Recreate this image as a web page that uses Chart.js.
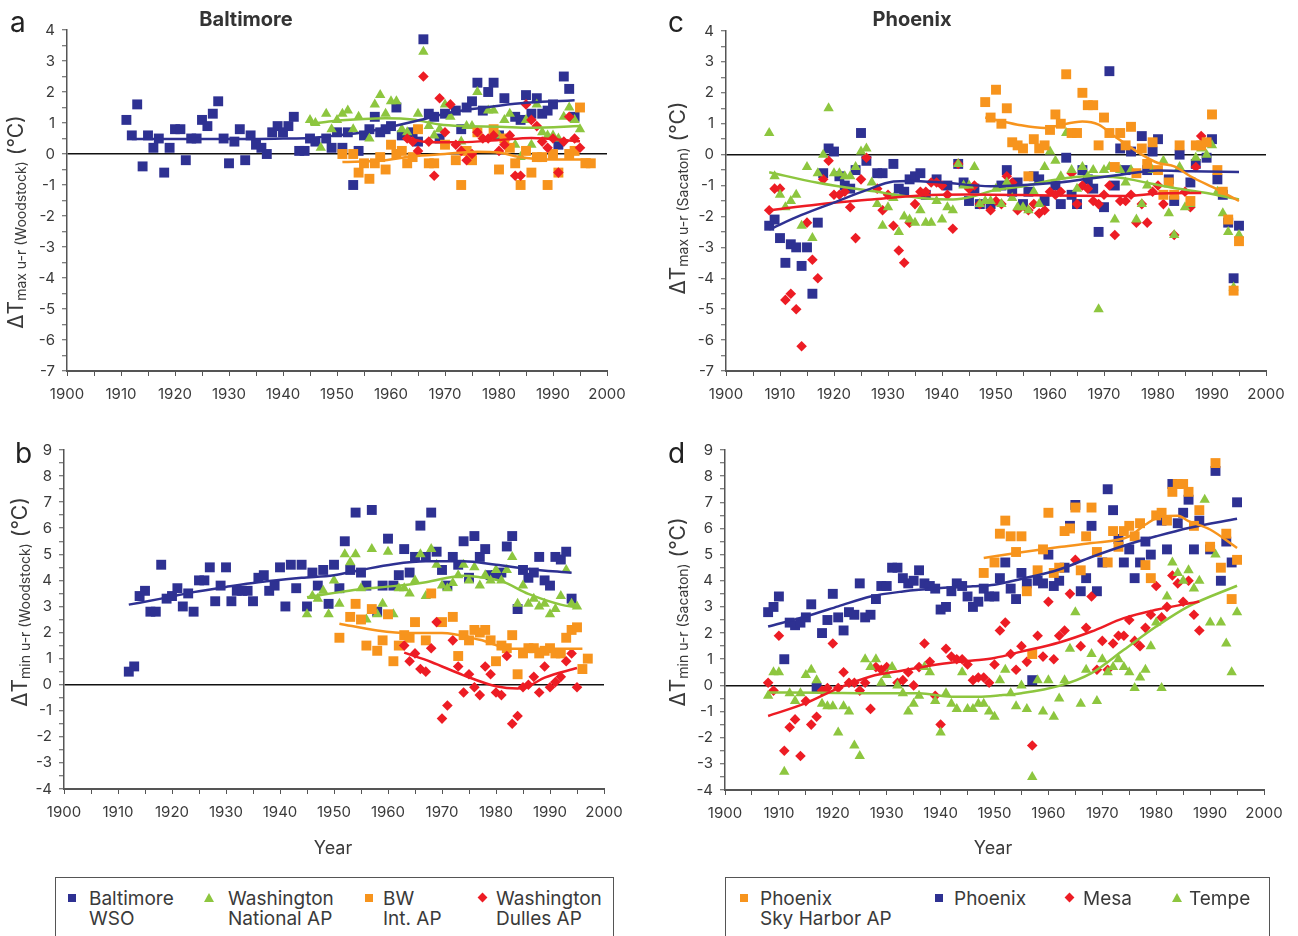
<!DOCTYPE html>
<html>
<head>
<meta charset="utf-8">
<script src="https://cdn.jsdelivr.net/npm/chart.js@4.4.1/dist/chart.umd.min.js"></script>
<style>
  html, body { margin: 0; padding: 0; width: 1298px; height: 936px; overflow: hidden; background: #fff; }
  body { position: relative; font-family: Inter, "Open Sans", sans-serif; color: #3a3a3a; }
  canvas { position: absolute; }
  .t { position: absolute; white-space: nowrap; line-height: 1; }
  .letter { font-size: 28px; color: #222; }
  .ptitle { font-size: 20px; font-weight: bold; color: #333; transform: translateX(-50%); }
  .ytitle { font-size: 21px; transform: translate(-50%, -50%) rotate(-90deg); }
  .ytitle .sub { font-size: 14px; position: relative; top: 3px; }
  .xtitle { font-size: 18px; transform: translateX(-50%); }
  .lbox { position: absolute; border: 1px solid #555; height: 90px; }
  .ltext { position: absolute; font-size: 19px; line-height: 20px; white-space: nowrap; color: #3a3a3a; }
  .msq { position: absolute; width: 8px; height: 8px; }
  .mdi { position: absolute; width: 7px; height: 7px; transform: rotate(45deg); }
  .mtr { position: absolute; width: 0; height: 0; border-left: 5.5px solid transparent; border-right: 5.5px solid transparent; border-bottom: 9.5px solid #8dc63f; }
</style>
</head>
<body>

<canvas id="pa" width="650" height="420" style="left:0;top:0"></canvas>
<canvas id="pc" width="643" height="420" style="left:655px;top:0"></canvas>
<canvas id="pb" width="650" height="440" style="left:0;top:430px"></canvas>
<canvas id="pd" width="643" height="440" style="left:655px;top:430px"></canvas>

<div class="t letter" style="left:10px;top:8px">a</div>
<div class="t letter" style="left:15px;top:439px">b</div>
<div class="t letter" style="left:668px;top:8px">c</div>
<div class="t letter" style="left:668px;top:439px">d</div>

<div class="t ptitle" style="left:246px;top:9px">Baltimore</div>
<div class="t ptitle" style="left:912px;top:9px">Phoenix</div>

<div class="t ytitle" style="left:15px;top:222px">ΔT<span class="sub">max u-r (Woodstock)</span> (°C)</div>
<div class="t ytitle" style="left:19px;top:602px">ΔT<span class="sub">min u-r (Woodstock)</span> (°C)</div>
<div class="t ytitle" style="left:677px;top:198px">ΔT<span class="sub">max u-r (Sacaton)</span> (°C)</div>
<div class="t ytitle" style="left:677px;top:612px">ΔT<span class="sub">min u-r (Sacaton)</span> (°C)</div>

<div class="t xtitle" style="left:333px;top:839px">Year</div>
<div class="t xtitle" style="left:993px;top:839px">Year</div>

<div class="lbox" style="left:55px;top:877px;width:557px"></div>
<div class="msq" style="left:68px;top:894px;background:#2e3192"></div>
<div class="ltext" style="left:89px;top:889px">Baltimore<br>WSO</div>
<div class="mtr" style="left:204px;top:893px"></div>
<div class="ltext" style="left:228px;top:889px">Washington<br>National AP</div>
<div class="msq" style="left:365px;top:894px;background:#f7941d"></div>
<div class="ltext" style="left:383px;top:889px">BW<br>Int. AP</div>
<div class="mdi" style="left:479px;top:894px;background:#ed1c24"></div>
<div class="ltext" style="left:496px;top:889px">Washington<br>Dulles AP</div>

<div class="lbox" style="left:725px;top:877px;width:543px"></div>
<div class="msq" style="left:740px;top:894px;background:#f7941d"></div>
<div class="ltext" style="left:760px;top:889px">Phoenix<br>Sky Harbor AP</div>
<div class="msq" style="left:935px;top:894px;background:#2e3192"></div>
<div class="ltext" style="left:954px;top:889px">Phoenix</div>
<div class="mdi" style="left:1066px;top:894px;background:#ed1c24"></div>
<div class="ltext" style="left:1083px;top:889px">Mesa</div>
<div class="mtr" style="left:1172px;top:893px"></div>
<div class="ltext" style="left:1189px;top:889px">Tempe</div>

<script>
// colours of the four stations in each panel
const BLUE = '#2e3192', GREEN = '#8dc63f', ORANGE = '#f7941d', RED = '#ed1c24';

// ---- a: Baltimore, delta Tmax (urban - Woodstock) ----
const balWsoMax = [[1911,1.1],[1912,0.6],[1913,1.6],[1914,-0.4],[1915,0.6],[1916,0.2],[1917,0.5],[1918,-0.6],[1919,0.2],[1920,0.8],[1921,0.8],[1922,-0.2],[1923,0.5],[1924,0.5],[1925,1.1],[1926,0.9],[1927,1.3],[1928,1.7],[1929,0.5],[1930,-0.3],[1931,0.4],[1932,0.8],[1933,-0.2],[1934,0.6],[1935,0.3],[1936,0.2],[1937,0.0],[1938,0.7],[1939,0.9],[1940,0.7],[1941,0.9],[1942,1.2],[1943,0.1],[1944,0.1],[1945,0.5],[1946,0.4],[1948,0.5],[1949,0.2],[1950,0.7],[1951,0.2],[1952,0.7],[1953,-1.0],[1954,0.1],[1955,0.6],[1956,0.8],[1957,1.2],[1958,0.7],[1959,0.8],[1960,0.9],[1961,1.5],[1962,0.6],[1964,0.7],[1965,0.4],[1966,3.7],[1967,1.3],[1968,1.2],[1969,0.5],[1970,1.3],[1972,1.4],[1973,0.8],[1974,1.5],[1975,1.7],[1976,2.3],[1977,1.4],[1978,2.0],[1979,2.3],[1980,0.6],[1981,1.8],[1983,1.2],[1984,1.1],[1985,1.9],[1986,1.3],[1987,1.8],[1988,1.3],[1989,1.4],[1990,1.6],[1991,0.3],[1992,2.5],[1993,2.1],[1994,1.2]];
const waNatMax = [[1945,1.1],[1946,1.0],[1947,0.2],[1948,1.3],[1949,0.8],[1950,1.1],[1951,1.3],[1952,1.4],[1953,0.8],[1954,1.2],[1956,0.5],[1957,1.6],[1958,1.9],[1959,1.3],[1960,1.7],[1961,1.7],[1962,0.8],[1963,0.7],[1965,1.3],[1966,3.3],[1967,0.9],[1968,0.6],[1969,0.8],[1970,1.6],[1971,1.2],[1973,0.4],[1974,0.9],[1975,0.9],[1976,2.0],[1978,1.4],[1979,1.4],[1980,0.6],[1981,1.1],[1982,1.3],[1983,0.3],[1984,-0.1],[1985,1.1],[1986,0.3],[1987,1.6],[1988,0.7],[1989,0.6],[1990,0.6],[1991,0.5],[1992,1.2],[1993,1.5],[1994,1.1],[1995,0.8]];
const bwiMax = [[1951,0.0],[1953,0.0],[1954,-0.6],[1955,-0.3],[1956,-0.8],[1957,-0.3],[1958,-0.1],[1959,-0.5],[1960,0.3],[1961,0.0],[1962,0.1],[1963,-0.3],[1964,-0.1],[1965,0.8],[1967,-0.3],[1968,-0.3],[1970,0.3],[1972,-0.2],[1973,-1.0],[1974,0.1],[1975,-0.2],[1976,0.7],[1979,0.8],[1980,-0.5],[1981,0.5],[1982,0.2],[1983,-0.3],[1984,-1.0],[1985,0.1],[1986,-0.6],[1987,-0.1],[1988,-0.1],[1989,-1.0],[1990,0.0],[1991,-0.6],[1993,0.0],[1994,0.1],[1995,1.5],[1996,-0.3],[1997,-0.3]];
const dullesMax = [[1963,0.5],[1964,0.4],[1965,0.1],[1966,2.5],[1967,0.4],[1968,-0.7],[1969,1.8],[1970,0.7],[1971,1.6],[1972,0.3],[1973,0.1],[1974,-0.2],[1975,0.0],[1976,0.7],[1977,0.5],[1978,0.5],[1979,0.6],[1980,0.1],[1981,0.3],[1982,0.6],[1983,-0.7],[1984,-0.7],[1985,1.6],[1986,1.1],[1987,0.9],[1988,0.4],[1989,0.2],[1990,0.5],[1991,-0.6],[1992,0.4],[1993,1.2],[1994,0.5],[1995,0.2]];
const balWsoMaxFit = [[1912,0.48],[1920,0.48],[1930,0.48],[1940,0.5],[1945,0.52],[1950,0.6],[1955,0.7],[1960,0.88],[1965,1.08],[1970,1.3],[1975,1.45],[1980,1.56],[1985,1.65],[1990,1.7],[1994,1.73]];
const waNatMaxFit = [[1945,0.97],[1949,1.06],[1955,1.13],[1959,1.15],[1964,1.11],[1969,0.95],[1973,0.9],[1980,0.88],[1986,0.85],[1995,0.9]];
const bwiMaxFit = [[1951,-0.26],[1958,-0.22],[1964,-0.07],[1970,0.0],[1976,0.07],[1980,0.05],[1983,-0.07],[1987,-0.16],[1992,-0.18],[1997,-0.18]];
const dullesMaxFit = [[1963,0.52],[1967,0.38],[1973,0.38],[1980,0.45],[1986,0.52],[1995,0.41]];

// ---- b: Baltimore, delta Tmin ----
const balWsoMin = [[1912,0.5],[1913,0.7],[1914,3.4],[1915,3.6],[1916,2.8],[1917,2.8],[1918,4.6],[1919,3.3],[1920,3.4],[1921,3.7],[1922,3.0],[1923,3.5],[1924,2.8],[1925,4.0],[1926,4.0],[1927,4.5],[1928,3.2],[1929,3.8],[1930,4.5],[1931,3.2],[1932,3.6],[1933,3.6],[1934,3.6],[1935,3.2],[1936,4.1],[1937,4.2],[1938,3.6],[1939,3.8],[1940,4.5],[1941,3.0],[1942,4.6],[1943,3.7],[1944,4.6],[1945,3.0],[1946,4.3],[1947,3.8],[1948,4.4],[1949,3.1],[1950,4.6],[1951,3.7],[1952,5.5],[1953,4.4],[1954,6.6],[1955,4.3],[1956,3.8],[1957,6.7],[1958,2.8],[1959,3.8],[1960,5.6],[1961,3.8],[1962,4.2],[1963,5.2],[1964,4.3],[1965,4.9],[1966,6.1],[1967,4.9],[1968,6.6],[1969,5.1],[1970,4.4],[1971,3.8],[1972,4.9],[1973,4.6],[1974,5.5],[1975,4.1],[1976,5.7],[1977,4.9],[1978,5.2],[1979,4.2],[1980,4.2],[1981,4.3],[1982,5.3],[1983,5.7],[1984,2.9],[1985,4.4],[1986,4.1],[1987,4.3],[1988,4.9],[1989,4.0],[1990,3.8],[1991,4.9],[1992,4.8],[1993,5.1],[1994,3.3]];
const waNatMin = [[1945,2.7],[1946,3.4],[1947,3.3],[1948,3.6],[1949,2.7],[1950,4.0],[1951,3.1],[1952,5.0],[1953,4.7],[1954,5.0],[1955,3.7],[1956,2.5],[1957,5.2],[1958,2.7],[1959,3.1],[1960,5.1],[1961,2.7],[1962,3.7],[1963,3.7],[1964,3.5],[1965,4.0],[1966,5.0],[1967,3.4],[1968,5.2],[1969,4.6],[1970,3.8],[1971,3.7],[1972,3.9],[1973,4.2],[1974,4.6],[1975,4.0],[1976,4.5],[1977,3.8],[1978,4.2],[1979,4.0],[1980,4.4],[1981,4.0],[1982,4.4],[1983,4.9],[1984,3.1],[1985,3.8],[1986,3.1],[1987,3.3],[1988,3.0],[1989,3.1],[1990,2.7],[1991,2.9],[1992,3.4],[1993,4.4],[1994,3.1],[1995,3.0]];
const bwiMin = [[1951,1.8],[1953,2.6],[1954,3.1],[1955,2.5],[1956,1.5],[1957,2.9],[1958,1.3],[1959,1.7],[1960,2.7],[1961,0.9],[1962,1.5],[1963,1.9],[1964,1.8],[1965,2.4],[1967,1.7],[1968,3.5],[1970,2.4],[1972,2.6],[1973,1.1],[1974,1.9],[1975,1.7],[1976,2.1],[1977,2.0],[1978,2.1],[1979,1.7],[1980,0.9],[1981,1.5],[1982,1.4],[1983,1.9],[1984,0.4],[1985,1.2],[1986,1.4],[1987,1.4],[1988,1.2],[1989,1.3],[1990,1.4],[1991,1.2],[1992,1.2],[1993,1.8],[1994,2.1],[1995,2.2],[1996,0.6],[1997,1.0]];
const dullesMin = [[1963,1.5],[1964,0.9],[1965,1.2],[1966,0.6],[1967,0.5],[1968,1.4],[1969,2.4],[1970,-1.3],[1971,-0.8],[1972,1.7],[1973,0.7],[1974,-0.3],[1975,0.4],[1976,-0.1],[1977,-0.4],[1978,0.7],[1979,0.4],[1980,-0.3],[1981,-0.4],[1982,1.1],[1983,-1.5],[1984,-1.2],[1985,-0.1],[1986,0.0],[1987,0.3],[1988,-0.3],[1989,0.7],[1990,-0.1],[1991,0.1],[1992,0.3],[1993,0.9],[1994,1.2],[1995,-0.1]];
const balWsoMinFit = [[1912,3.07],[1918,3.3],[1924,3.55],[1930,3.75],[1936,3.93],[1944,4.1],[1950,4.2],[1955,4.4],[1961,4.62],[1967,4.73],[1974,4.73],[1980,4.6],[1986,4.44],[1994,4.29]];
const waNatMinFit = [[1945,3.35],[1951,3.55],[1955,3.67],[1961,3.78],[1967,3.93],[1974,4.18],[1977,4.12],[1981,3.97],[1986,3.48],[1992,3.07],[1995,2.97]];
const bwiMinFit = [[1951,2.34],[1958,2.08],[1964,1.98],[1970,1.98],[1977,1.72],[1983,1.38],[1989,1.38],[1996,1.38]];
const dullesMinFit = [[1963,1.23],[1968,0.87],[1974,0.36],[1980,-0.06],[1984,-0.15],[1986,-0.06],[1989,0.27],[1995,0.64]];

// ---- c: Phoenix, delta Tmax (urban - Sacaton) ----
const skyHarborMax = [[1948,1.7],[1949,1.2],[1950,2.1],[1951,1.0],[1952,1.5],[1953,0.4],[1954,0.3],[1955,0.2],[1956,-0.7],[1957,0.5],[1958,0.2],[1959,0.3],[1960,0.8],[1961,1.3],[1962,1.0],[1963,2.6],[1964,0.7],[1965,0.7],[1966,2.0],[1967,1.6],[1968,1.6],[1969,0.3],[1970,1.2],[1971,0.7],[1972,-0.4],[1973,0.7],[1974,0.3],[1975,0.9],[1976,-0.6],[1977,0.2],[1978,-0.3],[1979,0.4],[1980,-0.5],[1981,-1.3],[1982,-0.9],[1983,-1.3],[1984,0.3],[1986,-1.5],[1987,0.3],[1988,0.3],[1989,0.4],[1990,1.3],[1991,-0.5],[1992,-1.2],[1993,-2.1],[1994,-4.4],[1995,-2.8]];
const phoenixMax = [[1908,-2.3],[1909,-2.1],[1910,-2.7],[1911,-3.5],[1912,-2.9],[1913,-3.0],[1914,-3.6],[1915,-3.0],[1916,-4.5],[1917,-2.2],[1918,-0.6],[1919,0.2],[1920,0.1],[1921,-0.7],[1922,-1.0],[1923,-1.1],[1924,-0.5],[1925,0.7],[1926,-0.2],[1928,-0.6],[1929,-0.6],[1931,-0.3],[1932,-1.1],[1933,-1.2],[1934,-0.8],[1935,-0.7],[1936,-0.6],[1937,-1.3],[1939,-0.8],[1941,-1.0],[1943,-0.3],[1944,-0.9],[1945,-1.5],[1946,-1.1],[1947,-1.6],[1949,-1.6],[1951,-1.0],[1952,-0.5],[1953,-1.2],[1954,-0.9],[1955,-1.6],[1956,-1.2],[1957,-0.7],[1958,-0.8],[1959,-1.5],[1961,-1.0],[1962,-1.6],[1963,-0.1],[1964,-1.3],[1965,-1.6],[1966,-0.5],[1967,-0.8],[1968,-1.1],[1969,-2.5],[1970,-1.7],[1971,2.7],[1972,-1.0],[1973,0.2],[1974,-0.5],[1975,0.1],[1977,0.6],[1978,-0.5],[1979,0.1],[1980,0.5],[1982,-0.8],[1983,-1.5],[1984,0.0],[1986,-0.9],[1987,-0.3],[1989,-0.1],[1990,0.5],[1991,-0.8],[1992,-1.3],[1993,-2.2],[1994,-4.0],[1995,-2.3]];
const mesaMax = [[1908,-1.8],[1909,-1.1],[1910,-1.1],[1911,-4.7],[1912,-4.5],[1913,-5.0],[1914,-6.2],[1915,-2.2],[1916,-3.4],[1917,-4.0],[1918,-0.8],[1919,-0.2],[1920,-1.3],[1921,-1.3],[1922,-1.2],[1923,-1.7],[1924,-2.7],[1925,-0.8],[1926,-0.1],[1928,-1.1],[1929,-1.8],[1930,-1.3],[1931,-2.3],[1932,-3.1],[1933,-3.5],[1934,-2.2],[1935,-1.6],[1936,-1.2],[1937,-1.2],[1938,-0.9],[1939,-0.9],[1940,-1.0],[1941,-1.3],[1942,-2.4],[1943,-0.3],[1945,-1.1],[1946,-1.0],[1947,-1.6],[1949,-1.8],[1950,-1.5],[1951,-1.6],[1952,-0.7],[1953,-0.9],[1954,-1.8],[1956,-1.8],[1957,-1.6],[1958,-1.9],[1959,-1.8],[1960,-1.2],[1961,-1.3],[1962,-1.2],[1964,-0.6],[1965,-1.6],[1966,-1.0],[1967,-1.1],[1968,-1.5],[1969,-1.6],[1970,-1.3],[1971,-1.0],[1972,-2.6],[1973,-1.5],[1974,-1.5],[1975,-1.3],[1976,-2.2],[1977,-1.6],[1978,-2.2],[1979,-1.2],[1980,-1.0],[1981,-1.6],[1983,-2.6],[1985,-1.2],[1986,-1.7],[1987,-0.4],[1988,0.6]];
const tempeMax = [[1908,0.7],[1909,-0.7],[1910,-1.3],[1911,-1.7],[1912,-1.5],[1913,-1.3],[1914,-2.3],[1915,-0.4],[1916,-2.7],[1917,-0.6],[1918,0.0],[1919,1.5],[1920,-0.6],[1921,-0.6],[1922,-0.7],[1923,-0.7],[1924,-0.4],[1925,0.1],[1926,0.2],[1927,-0.9],[1928,-1.6],[1929,-2.3],[1930,-1.7],[1931,-1.4],[1932,-2.5],[1933,-2.0],[1934,-2.1],[1935,-2.2],[1936,-1.8],[1937,-2.2],[1938,-2.2],[1939,-1.5],[1940,-2.1],[1941,-1.7],[1942,-1.8],[1943,-0.3],[1944,-1.0],[1945,-1.0],[1946,-0.4],[1947,-1.6],[1948,-1.5],[1949,-1.5],[1950,-1.1],[1951,-1.6],[1952,-0.9],[1953,-1.4],[1954,-1.7],[1955,-1.7],[1956,-1.8],[1957,-1.2],[1958,-1.6],[1959,-0.4],[1960,0.1],[1961,-0.2],[1962,-0.7],[1963,0.7],[1964,-0.5],[1965,-1.1],[1966,-0.4],[1967,-0.7],[1968,-0.5],[1969,-5.0],[1970,-0.5],[1971,-0.4],[1972,-2.1],[1973,-0.5],[1974,-0.9],[1975,-0.5],[1976,-2.1],[1977,-1.6],[1978,-1.0],[1979,-0.5],[1981,-0.2],[1982,-1.9],[1983,-2.6],[1984,-0.4],[1985,-1.7],[1986,-1.6],[1987,-0.1],[1988,0.2],[1989,0.0],[1990,0.3],[1991,-1.2],[1992,-1.9],[1993,-2.5],[1994,-4.3],[1995,-2.6]];
const skyHarborMaxFit = [[1948,1.2],[1954,0.97],[1959,0.86],[1961,0.92],[1966,1.07],[1969,0.97],[1972,0.59],[1977,0.0],[1980,-0.27],[1983,-0.38],[1986,-0.7],[1991,-1.13],[1995,-1.5]];
const phoenixMaxFit = [[1908,-2.42],[1914,-1.95],[1920,-1.55],[1926,-1.15],[1931,-0.87],[1934,-0.85],[1940,-0.9],[1949,-1.02],[1961,-0.91],[1967,-0.78],[1973,-0.65],[1980,-0.51],[1986,-0.54],[1995,-0.56]];
const mesaMaxFit = [[1908,-1.8],[1917,-1.61],[1927,-1.45],[1936,-1.32],[1945,-1.29],[1961,-1.32],[1974,-1.34],[1980,-1.26],[1988,-1.24]];
const tempeMaxFit = [[1908,-0.57],[1917,-0.91],[1927,-1.18],[1936,-1.4],[1942,-1.45],[1946,-1.34],[1949,-1.18],[1955,-1.02],[1961,-0.81],[1967,-0.7],[1973,-0.75],[1978,-0.91],[1983,-1.08],[1989,-1.24],[1995,-1.45]];

// ---- d: Phoenix, delta Tmin ----
const skyHarborMin = [[1948,4.3],[1950,4.7],[1951,5.8],[1952,6.3],[1953,5.7],[1954,5.1],[1955,5.7],[1956,3.6],[1957,1.2],[1958,4.4],[1959,5.2],[1960,6.6],[1961,4.3],[1962,4.5],[1963,5.9],[1964,6.0],[1965,6.8],[1966,4.4],[1967,5.7],[1968,6.8],[1969,5.1],[1971,4.7],[1972,5.9],[1973,5.3],[1974,5.9],[1975,6.1],[1976,5.7],[1977,6.2],[1978,4.6],[1979,4.1],[1980,6.5],[1981,6.6],[1982,6.3],[1983,7.4],[1984,7.7],[1985,7.7],[1986,7.4],[1987,6.1],[1988,6.7],[1990,5.3],[1991,8.5],[1992,4.5],[1993,5.8],[1994,3.3],[1995,4.8]];
const phoenixMin = [[1908,2.8],[1909,3.0],[1910,3.4],[1911,1.0],[1912,2.4],[1913,2.3],[1914,2.4],[1915,2.6],[1916,3.1],[1917,-0.1],[1918,2.0],[1919,2.5],[1920,3.5],[1921,2.6],[1922,2.1],[1923,2.8],[1924,2.7],[1925,3.9],[1926,2.6],[1927,2.7],[1928,3.3],[1929,3.8],[1930,3.8],[1931,4.5],[1932,4.5],[1933,4.1],[1934,3.9],[1935,4.0],[1936,4.4],[1937,3.9],[1938,3.8],[1939,3.7],[1940,2.9],[1941,3.0],[1942,3.6],[1943,3.9],[1944,3.8],[1945,3.4],[1946,3.0],[1947,3.2],[1948,3.7],[1949,3.4],[1950,3.4],[1951,4.1],[1952,4.7],[1953,3.7],[1954,3.3],[1955,4.3],[1956,3.9],[1957,0.2],[1958,4.0],[1959,3.9],[1960,5.0],[1961,3.8],[1962,4.0],[1963,4.5],[1964,6.1],[1965,6.9],[1966,3.6],[1967,4.1],[1968,6.1],[1969,3.6],[1970,4.7],[1971,7.5],[1972,6.7],[1973,5.6],[1974,4.7],[1975,5.2],[1976,4.1],[1977,4.7],[1978,5.5],[1979,5.0],[1981,6.3],[1982,5.2],[1983,7.7],[1984,6.2],[1985,6.6],[1986,7.1],[1987,5.2],[1988,6.3],[1990,5.2],[1991,8.2],[1992,4.0],[1993,5.5],[1994,4.7],[1995,7.0]];
const mesaMin = [[1908,0.1],[1909,-0.2],[1910,1.9],[1911,-2.5],[1912,-1.6],[1913,-1.3],[1914,-2.7],[1915,-0.6],[1916,-1.5],[1917,-1.2],[1918,-0.2],[1919,-0.1],[1920,1.6],[1921,-0.1],[1922,0.5],[1923,0.1],[1924,0.1],[1925,-0.2],[1926,0.1],[1927,-0.9],[1928,0.7],[1929,0.6],[1930,0.7],[1932,0.1],[1933,0.2],[1934,0.5],[1935,0.0],[1936,0.7],[1937,1.6],[1938,0.9],[1939,-0.4],[1940,-1.5],[1941,1.4],[1942,1.1],[1943,1.0],[1944,1.0],[1945,0.8],[1946,0.2],[1947,0.3],[1948,0.3],[1949,0.1],[1950,0.8],[1951,2.1],[1952,2.4],[1953,1.2],[1954,0.6],[1955,1.5],[1956,0.9],[1957,-2.3],[1958,1.9],[1959,1.1],[1960,3.2],[1961,1.0],[1962,1.9],[1963,2.1],[1964,3.5],[1965,4.8],[1966,1.5],[1967,2.2],[1968,3.4],[1969,0.6],[1970,1.7],[1971,0.6],[1972,1.6],[1973,1.9],[1974,1.9],[1975,2.5],[1976,1.7],[1977,1.5],[1978,2.2],[1979,2.7],[1980,3.8],[1981,2.6],[1982,3.0],[1983,4.2],[1984,3.9],[1985,3.2],[1986,4.0],[1987,2.7],[1988,2.1]];
const tempeMin = [[1908,-0.4],[1909,0.5],[1910,0.5],[1911,-3.3],[1912,-0.3],[1913,-0.6],[1914,-0.3],[1915,0.4],[1916,0.6],[1917,0.2],[1918,-0.7],[1919,-0.8],[1920,-0.8],[1921,-1.8],[1922,-0.8],[1923,-1.0],[1924,-2.3],[1925,-2.7],[1926,1.0],[1927,0.7],[1928,1.0],[1929,0.1],[1930,0.4],[1931,0.7],[1932,0.0],[1933,-0.3],[1934,-1.0],[1935,-0.7],[1936,-0.4],[1937,0.7],[1938,0.5],[1939,-0.6],[1940,-1.8],[1941,-0.3],[1942,-0.7],[1943,-0.9],[1944,0.5],[1945,-0.9],[1946,-0.9],[1947,-0.7],[1948,-0.7],[1949,-1.0],[1950,-1.2],[1951,0.2],[1952,0.6],[1953,-0.3],[1954,-0.8],[1955,0.0],[1956,-0.9],[1957,-3.5],[1958,0.2],[1959,-1.0],[1960,0.2],[1961,-1.2],[1962,-0.5],[1963,0.2],[1964,1.4],[1965,2.8],[1966,-0.7],[1967,0.6],[1968,1.2],[1969,-0.6],[1970,1.0],[1971,0.5],[1972,0.7],[1973,1.0],[1974,0.7],[1975,0.5],[1976,-0.1],[1977,0.3],[1978,0.6],[1979,1.5],[1980,2.4],[1981,-0.1],[1982,3.4],[1983,4.7],[1984,4.3],[1985,4.0],[1986,4.4],[1987,3.7],[1988,4.0],[1989,7.1],[1990,2.4],[1991,5.0],[1992,2.4],[1993,1.6],[1994,0.5],[1995,2.8]];
const skyHarborMinFit = [[1948,4.87],[1955,5.09],[1962,5.29],[1968,5.44],[1975,5.7],[1978,6.15],[1981,6.47],[1984,6.49],[1986,6.28],[1990,5.96],[1995,5.25]];
const phoenixMinFit = [[1908,2.25],[1915,2.64],[1921,3.02],[1927,3.4],[1933,3.59],[1940,3.72],[1946,3.79],[1950,3.85],[1955,4.07],[1962,4.43],[1968,4.91],[1974,5.34],[1980,5.7],[1986,6.02],[1995,6.37]];
const mesaMinFit = [[1908,-1.17],[1915,-0.68],[1921,-0.11],[1927,0.34],[1933,0.57],[1940,0.82],[1946,0.95],[1950,1.05],[1955,1.29],[1962,1.64],[1968,2.06],[1974,2.57],[1980,2.89],[1988,3.21]];
const tempeMinFit = [[1908,-0.27],[1918,-0.28],[1927,-0.3],[1936,-0.3],[1942,-0.43],[1947,-0.43],[1951,-0.38],[1955,-0.3],[1962,-0.02],[1968,0.47],[1974,1.36],[1980,2.25],[1986,3.02],[1995,3.81]];

Chart.defaults.font.family = 'Inter, "Open Sans", sans-serif';
Chart.defaults.color = '#3a3a3a';

function xy(arr) {
    return arr.map(p => ({ x: p[0], y: p[1] }));
}

function markers(arr, color, style, radius, order) {
    return {
        type: 'scatter', data: xy(arr), order,
        pointStyle: style, pointRadius: radius, pointHoverRadius: radius,
        backgroundColor: color, borderColor: color, borderWidth: 0,
    };
}

function trend(arr, color) {
    return {
        type: 'line', data: xy(arr), order: 0,
        borderColor: color, borderWidth: 2.5, pointRadius: 0, fill: false,
        cubicInterpolationMode: 'monotone',
    };
}

const sq = (arr, color, order) => markers(arr, color, 'rect', 7, order);
const tri = (arr, order) => markers(arr, GREEN, 'triangle', 6, order);
const dia = (arr, order) => markers(arr, RED, 'rectRot', 5.3, order);

function panel(id, yMin, yMax, datasets, box) {
    new Chart(document.getElementById(id), {
        type: 'scatter',
        data: { datasets },
        options: {
            responsive: false,
            animation: false,
            devicePixelRatio: 1,
            layout: { padding: { left: 0, top: box.top, right: box.right, bottom: 0 } },
            plugins: { legend: { display: false }, tooltip: { enabled: false } },
            scales: {
                x: {
                    type: 'linear', min: 1900, max: 2000,
                    afterFit: s => { s.height = box.xh; },
                    ticks: {
                        stepSize: 5, autoSkip: false, maxRotation: 0, padding: 9,
                        font: { size: 15 }, color: '#3a3a3a',
                        callback: v => (v % 10 === 0 ? String(v) : ''),
                    },
                    grid: { drawOnChartArea: false, tickLength: 5, color: '#555', lineWidth: 1 },
                    border: { color: '#555', width: 2 },
                },
                y: {
                    min: yMin, max: yMax,
                    afterFit: s => { s.width = box.yw; },
                    ticks: {
                        stepSize: 0.5, autoSkip: false, padding: 7,
                        font: { size: 15 }, color: '#3a3a3a',
                        callback: v => (Number.isInteger(v) ? String(v) : ''),
                    },
                    grid: {
                        color: c => (c.tick && c.tick.value === 0 ? '#111' : 'rgba(0,0,0,0)'),
                        lineWidth: 1.5, tickColor: '#555', tickWidth: 1, tickLength: 5,
                    },
                    border: { color: '#555', width: 1.5 },
                },
            },
        },
    });
}

panel('pa', -7, 4, [
    trend(balWsoMaxFit, BLUE), trend(waNatMaxFit, GREEN), trend(bwiMaxFit, ORANGE), trend(dullesMaxFit, RED),
    dia(dullesMax, 1), sq(bwiMax, ORANGE, 2), tri(waNatMax, 3), sq(balWsoMax, BLUE, 4),
], { top: 30, right: 43, yw: 67, xh: 49 });

panel('pb', -4, 9, [
    trend(balWsoMinFit, BLUE), trend(waNatMinFit, GREEN), trend(bwiMinFit, ORANGE), trend(dullesMinFit, RED),
    dia(dullesMin, 1), sq(bwiMin, ORANGE, 2), tri(waNatMin, 3), sq(balWsoMin, BLUE, 4),
], { top: 20, right: 46, yw: 64, xh: 81 });

panel('pc', -7, 4, [
    trend(skyHarborMaxFit, ORANGE), trend(phoenixMaxFit, BLUE), trend(mesaMaxFit, RED), trend(tempeMaxFit, GREEN),
    sq(skyHarborMax, ORANGE, 1), tri(tempeMax, 2), dia(mesaMax, 3), sq(phoenixMax, BLUE, 4),
], { top: 31, right: 32, yw: 71, xh: 49 });

panel('pd', -4, 9, [
    trend(skyHarborMinFit, ORANGE), trend(phoenixMinFit, BLUE), trend(mesaMinFit, RED), trend(tempeMinFit, GREEN),
    sq(skyHarborMin, ORANGE, 1), tri(tempeMin, 2), dia(mesaMin, 3), sq(phoenixMin, BLUE, 4),
], { top: 20, right: 34, yw: 70, xh: 80 });
</script>
</body>
</html>
